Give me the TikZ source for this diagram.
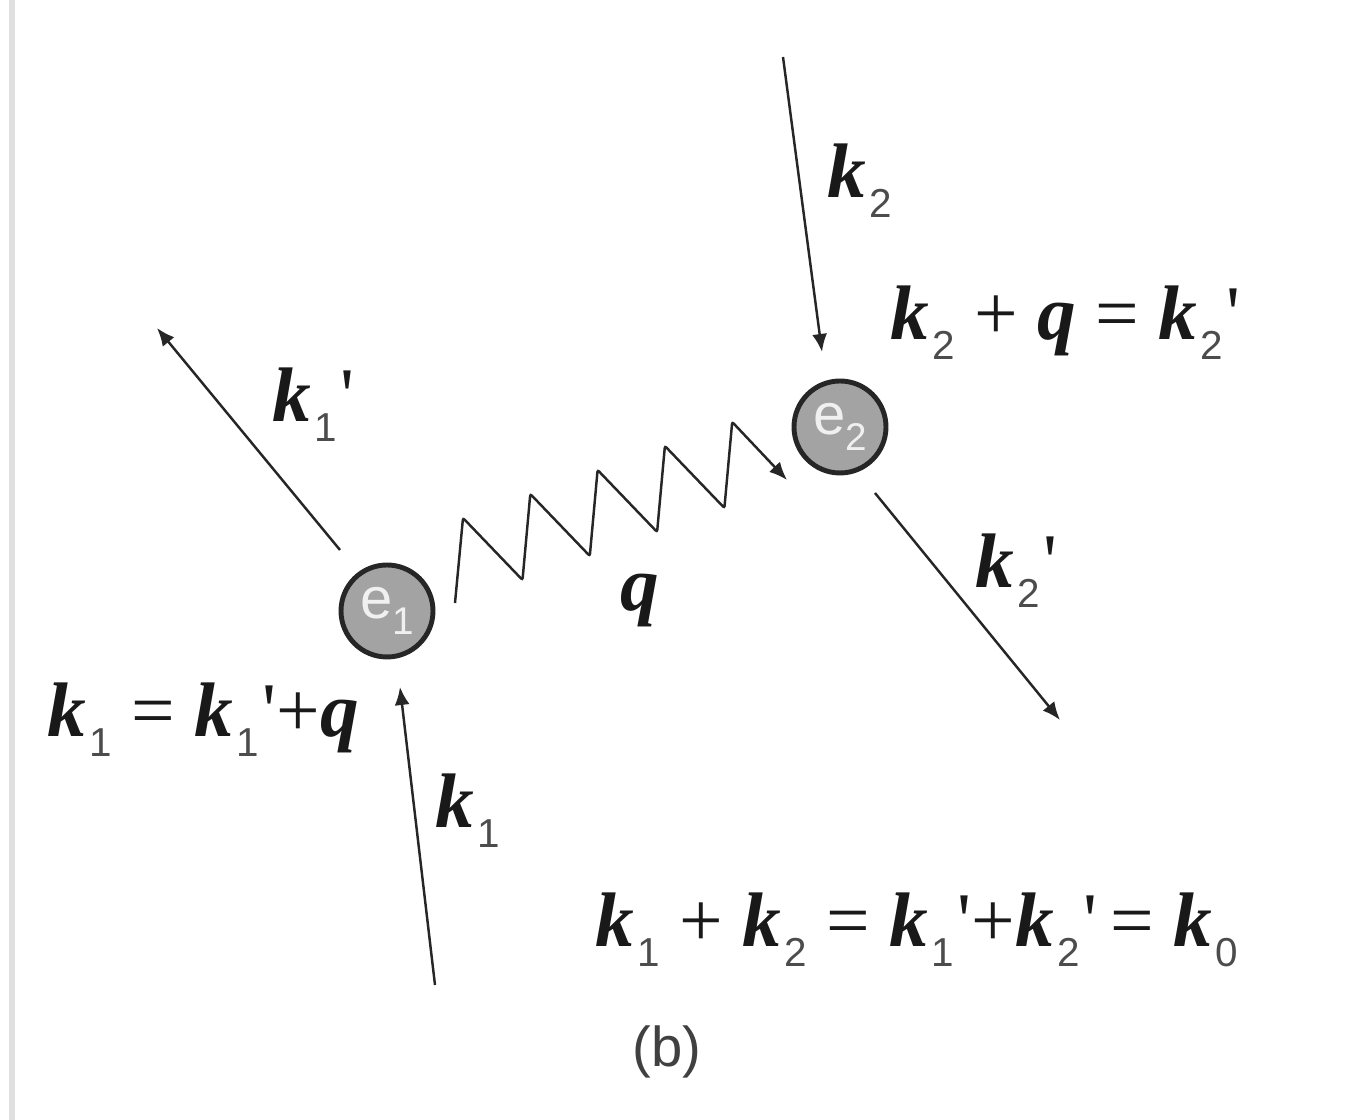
\documentclass[tikz,border=0pt]{standalone}
\usepackage{fontspec}
\setmainfont{Liberation Serif}
\newfontfamily\subfont{Liberation Sans}
\usetikzlibrary{arrows.meta}
\def\kv#1{\textbf{\textit{k}}\kern1pt\raisebox{-5.5pt}{\subfont\fontsize{11.5}{12}\selectfont\color{black!70}#1}}
\def\qv{\textbf{\textit{q}}}
\def\pr{\kern1pt\textquotesingle}
\def\ev#1{e\raisebox{-4.5pt}{\fontsize{11}{12}\selectfont #1}}

\begin{document}
\begin{tikzpicture}[
	mom/.style={line width=0.7pt, draw=black!85, -{Latex[length=1.8mm,width=1.5mm]}},
	lab/.style={inner sep=0pt, anchor=base west, text=black!90, font=\fontsize{22}{26}\selectfont},
	ball/.style={circle, draw=black!85, line width=1.4pt, fill=black!36, minimum size=0.92cm, inner sep=0pt, text=white!94!black, font=\subfont\fontsize{16.5}{18}\selectfont}]
			%%%%% START %%%%%
			
			\useasboundingbox (0,0) rectangle (13.7,11.2);
			\draw[line width=0.6mm, color=black!12] (0.12,0) -- (0.12,11.2);
			
			\node[ball] (e1) at (3.87,5.09) {\ev{1}};
			\node[ball] (e2) at (8.40,6.93) {\ev{2}};
			
			\coordinate (k1in) at (4.35,1.35);
			\coordinate (k1hit) at (4.00,4.33);
			\coordinate (k1out) at (3.40,5.70);
			\coordinate (k1end) at (1.57,7.92);
			\coordinate (k2in) at (7.83,10.63);
			\coordinate (k2hit) at (8.22,7.68);
			\coordinate (k2out) at (8.75,6.27);
			\coordinate (k2end) at (10.60,4.00);
			\coordinate (qs) at (4.55,5.17);
			\coordinate (qe) at (7.87,6.40);
			
			\draw[mom] (k1in) -- (k1hit);
			\draw[mom] (k1out) -- (k1end);
			\draw[mom] (k2in) -- (k2hit);
			\draw[mom] (k2out) -- (k2end);
			
			\draw[mom, rounded corners=0.6pt] (qs) -- ++(0.08,0.85)
				\foreach \i in {1,...,4} { -- ++(0.595,-0.62) -- ++(0.078,0.86) } -- (qe);
			
			\node[lab] (lk1) at (4.35,2.92) {\kv{1}};
			\node[lab] (lk1p) at (2.72,6.98) {\kv{1}\pr};
			\node[lab] (lk2) at (8.27,9.22) {\kv{2}};
			\node[lab] (lk2p) at (9.75,5.32) {\kv{2}\pr};
			\node[lab] (lq) at (6.20,5.09) {\qv};
			
			\node[lab] (sumk1) at (0.47,3.83) {\kv{1} = \kv{1}\pr+\qv};
			\node[lab] (sumk2) at (8.90,7.80) {\kv{2} + \qv{} = \kv{2}\pr};
			\node[lab] (total) at (5.95,1.73) {\kv{1} + \kv{2} = \kv{1}\pr+\kv{2}\pr\,= \kv{0}};
			
			\node[anchor=base, inner sep=0pt, text=black!75, font=\subfont\fontsize{16}{18}\selectfont] (cap) at (6.67,0.53) {(b)};
			
			%%%%% END %%%%%
\end{tikzpicture}
\end{document}
